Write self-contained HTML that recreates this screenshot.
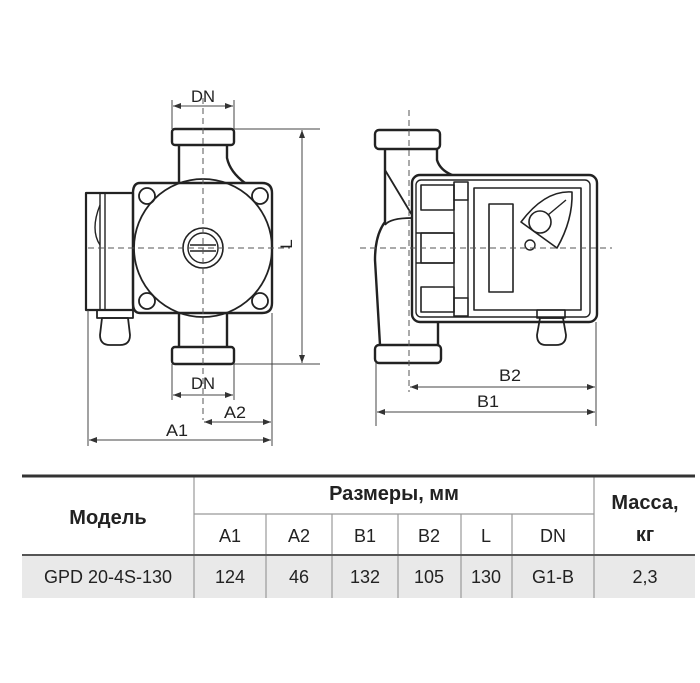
<!DOCTYPE html>
<html><head><meta charset="utf-8"><style>
body{margin:0;background:#fff;}
svg{display:block}
text{font-family:"Liberation Sans",sans-serif;fill:#222}
</style></head><body>
<svg width="700" height="683" viewBox="0 0 700 683" xmlns="http://www.w3.org/2000/svg">
<defs>
<marker id="ar" markerWidth="8" markerHeight="6" refX="8" refY="3" orient="auto-start-reverse" markerUnits="userSpaceOnUse"><path d="M0,0 L8,3 L0,6 z" fill="#333"/></marker>
</defs>
<g fill="none" stroke="#222" stroke-width="2.4" stroke-linejoin="round">
<rect x="172" y="129" width="62" height="16" rx="3"/>
<path d="M179,145 L179,183 M227,145 L227,158 Q230,172 245,183"/>
<path d="M140,183 L262,183 Q272,183 272,193 L272,303 Q272,313 262,313 L140,313 Q133,313 133,303 L133,193 Q133,183 140,183 Z" fill="#fff"/>
<circle cx="203" cy="248" r="69" stroke-width="1.8"/>
<circle cx="147" cy="196" r="8" stroke-width="1.8"/>
<circle cx="260" cy="196" r="8" stroke-width="1.8"/>
<circle cx="147" cy="301" r="8" stroke-width="1.8"/>
<circle cx="260" cy="301" r="8" stroke-width="1.8"/>
<circle cx="203" cy="248" r="20" stroke-width="1.6"/>
<circle cx="203" cy="248" r="15" stroke-width="1.4"/>
<path d="M190,245 L216,245 M190,251 L216,251" stroke-width="1.4"/>
<path d="M179,313 L179,347 M227,313 L227,347"/>
<rect x="172" y="347" width="62" height="17" rx="3"/>
<rect x="86" y="193" width="47" height="117" stroke-width="2.2"/>
<path d="M100,193 L100,310 M105,193 L105,310" stroke-width="1.4"/>
<path d="M100,205 Q90,230 100,245" stroke-width="1.4"/>
<rect x="97" y="310" width="36" height="8" stroke-width="1.8"/>
<path d="M102,318 L128,318 L130,335 Q130,345 120,345 L110,345 Q100,345 100,335 Z" stroke-width="1.8"/>
<rect x="375" y="130" width="65" height="19" rx="4"/>
<path d="M385,149 L385,222 Q375,235 375,260 L380,345 M437,149 L437,160 Q440,170 452,175"/>
<path d="M385,170 L412,215 M412,218 Q390,218 385,225" stroke-width="1.8"/>
<path d="M438,322 L438,345"/>
<rect x="375" y="345" width="66" height="18" rx="4"/>
<rect x="412" y="175" width="185" height="147" rx="8" fill="#fff"/>
<rect x="416" y="180" width="174" height="137" rx="5" stroke-width="1.4"/>
<rect x="421" y="185" width="33" height="25" stroke-width="1.6"/>
<rect x="421" y="233" width="33" height="30" stroke-width="1.6"/>
<rect x="421" y="287" width="33" height="25" stroke-width="1.6"/>
<path d="M416,233 L454,233 M416,263 L454,263" stroke-width="1.4"/>
<rect x="454" y="182" width="14" height="18" stroke-width="1.6"/>
<rect x="454" y="298" width="14" height="18" stroke-width="1.6"/>
<path d="M454,200 L454,298 M468,200 L468,298" stroke-width="1.4"/>
<rect x="474" y="188" width="107" height="122" stroke-width="1.6"/>
<rect x="489" y="204" width="24" height="88" stroke-width="1.6"/>
<path d="M521,222 Q545,190 572,192 Q573,220 557,248 Z" stroke-width="1.6"/>
<circle cx="540" cy="222" r="11" stroke-width="1.6"/>
<circle cx="530" cy="245" r="5" stroke-width="1.4"/>
<path d="M548,215 L566,200" stroke-width="1.4"/>
<rect x="537" y="310" width="28" height="8" stroke-width="1.6"/>
<path d="M540,318 L563,318 L566,335 Q566,345 556,345 L546,345 Q537,345 537,335 Z" stroke-width="1.8"/>
</g>
<g stroke="#555" stroke-width="1" stroke-dasharray="6,4" fill="none">
<path d="M203,98 L203,420 M88,248 L290,248"/>
<path d="M409,110 L409,392 M360,248 L612,248"/>
</g>
<g stroke="#444" stroke-width="1" fill="none">
<path d="M172,100 L172,129 M234,100 L234,129"/>
<path d="M173,106 L233,106" marker-start="url(#ar)" marker-end="url(#ar)"/>
<path d="M234,129 L320,129 M234,364 L320,364"/>
<path d="M302,130 L302,363" marker-start="url(#ar)" marker-end="url(#ar)"/>
<path d="M172,364 L172,400 M234,364 L234,400"/>
<path d="M173,395 L233,395" marker-start="url(#ar)" marker-end="url(#ar)"/>
<path d="M88,310 L88,446 M272,313 L272,446"/>
<path d="M204,422 L271,422" marker-start="url(#ar)" marker-end="url(#ar)"/>
<path d="M89,440 L271,440" marker-start="url(#ar)" marker-end="url(#ar)"/>
<path d="M376,363 L376,426 M596,322 L596,426"/>
<path d="M410,387 L595,387" marker-start="url(#ar)" marker-end="url(#ar)"/>
<path d="M377,412 L595,412" marker-start="url(#ar)" marker-end="url(#ar)"/>
</g>
<g font-size="17">
<text x="203" y="102" text-anchor="middle" textLength="24" lengthAdjust="spacingAndGlyphs">DN</text>
<text x="203" y="389" text-anchor="middle" textLength="24" lengthAdjust="spacingAndGlyphs">DN</text>
<text x="235" y="418" text-anchor="middle" textLength="22" lengthAdjust="spacingAndGlyphs">A2</text>
<text x="177" y="436" text-anchor="middle" textLength="22" lengthAdjust="spacingAndGlyphs">A1</text>
<text x="510" y="381" text-anchor="middle" textLength="22" lengthAdjust="spacingAndGlyphs">B2</text>
<text x="488" y="407" text-anchor="middle" textLength="22" lengthAdjust="spacingAndGlyphs">B1</text>
<text x="0" y="0" text-anchor="middle" transform="translate(292,244) rotate(-90)">L</text>
</g>
<rect x="22" y="555" width="673" height="43" fill="#e9e9e9"/>
<g stroke="#999" stroke-width="1.2">
<line x1="194" y1="476" x2="194" y2="598"/>
<line x1="594" y1="476" x2="594" y2="598"/>
<line x1="194" y1="514" x2="594" y2="514"/>
<line x1="266" y1="514" x2="266" y2="598"/>
<line x1="332" y1="514" x2="332" y2="598"/>
<line x1="398" y1="514" x2="398" y2="598"/>
<line x1="461" y1="514" x2="461" y2="598"/>
<line x1="512" y1="514" x2="512" y2="598"/>
</g>
<line x1="22" y1="555" x2="695" y2="555" stroke="#555" stroke-width="2"/>
<line x1="22" y1="476" x2="695" y2="476" stroke="#333" stroke-width="3"/>
<g font-size="20" font-weight="bold" text-anchor="middle">
<text x="108" y="524">Модель</text>
<text x="394" y="500">Размеры, мм</text>
<text x="645" y="509">Масса,</text>
<text x="645" y="541">кг</text>
</g>
<g font-size="18" text-anchor="middle">
<text x="230" y="542">A1</text>
<text x="299" y="542">A2</text>
<text x="365" y="542">B1</text>
<text x="429" y="542">B2</text>
<text x="486" y="542">L</text>
<text x="553" y="542">DN</text>
<text x="108" y="583">GPD 20-4S-130</text>
<text x="230" y="583">124</text>
<text x="299" y="583">46</text>
<text x="365" y="583">132</text>
<text x="429" y="583">105</text>
<text x="486" y="583">130</text>
<text x="553" y="583">G1-B</text>
<text x="645" y="583">2,3</text>
</g>
</svg>
</body></html>
